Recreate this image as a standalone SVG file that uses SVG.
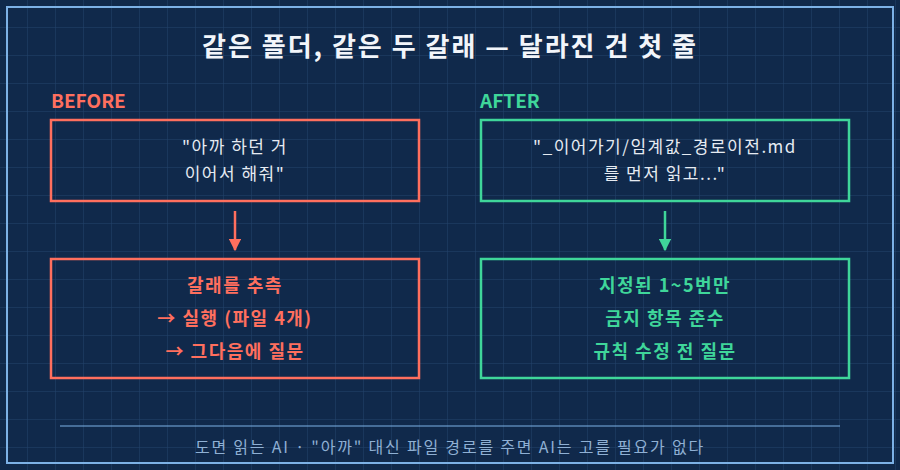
<svg xmlns="http://www.w3.org/2000/svg" width="900" height="470" viewBox="0 0 900 470">
<defs>
<pattern id="grid" width="28" height="28" patternUnits="userSpaceOnUse" x="0" y="0">
<path d="M28 0V28M0 28H28" fill="none" stroke="#24446c" stroke-width="1"/>
</pattern>
<marker id="ar" viewBox="0 0 10 10" refX="9" refY="5" markerWidth="5" markerHeight="5" orient="auto"><path d="M0 0L10 5L0 10z" fill="#ff6f5e"/></marker>
<marker id="ag" viewBox="0 0 10 10" refX="9" refY="5" markerWidth="5" markerHeight="5" orient="auto"><path d="M0 0L10 5L0 10z" fill="#3fd69a"/></marker>
</defs>
<style>
text{font-family:"Noto Sans CJK KR","Noto Sans",sans-serif;text-anchor:middle}
.t{fill:#f2f5fa;font-size:26px;font-weight:bold;letter-spacing:2px}
.lb{font-size:19px;font-weight:bold;text-anchor:start}
.q{fill:#e6ebf2;font-size:17px;letter-spacing:1.5px}
.b{font-size:18px;font-weight:bold;letter-spacing:1.5px}
.red{fill:#ff6f5e}.grn{fill:#3fd69a}
.bx{fill:none;stroke-width:2.5}
</style>
<rect width="900" height="470" fill="#10294b"/>
<rect width="900" height="470" fill="url(#grid)"/>
<rect x="7" y="7" width="886" height="456" fill="none" stroke="#7cb1e6" stroke-width="2"/>
<text class="t" x="450" y="56">같은 폴더, 같은 두 갈래 — 달라진 건 첫 줄</text>
<text class="lb red" x="51" y="108">BEFORE</text>
<text class="lb grn" x="480" y="108">AFTER</text>
<g id="before-prompt">
<rect class="bx" x="51" y="120" width="368" height="81" stroke="#ff6f5e"/>
<text class="q" x="235" y="153">"아까 하던 거</text>
<text class="q" x="235" y="180">이어서 해줘"</text>
</g>
<g id="before-result">
<rect class="bx" x="51" y="259" width="368" height="119" stroke="#ff6f5e"/>
<text class="b red" x="235" y="292">갈래를 추측</text>
<text class="b red" x="235" y="325">→ 실행 (파일 4개)</text>
<text class="b red" x="235" y="358">→ 그다음에 질문</text>
</g>
<g id="after-prompt">
<rect class="bx" x="481" y="120" width="368" height="81" stroke="#3fd69a"/>
<text class="q" x="665" y="153">"_이어가기/임계값_경로이전.md</text>
<text class="q" x="665" y="180">를 먼저 읽고..."</text>
</g>
<g id="after-result">
<rect class="bx" x="481" y="259" width="368" height="119" stroke="#3fd69a"/>
<text class="b grn" x="665" y="292">지정된 1~5번만</text>
<text class="b grn" x="665" y="325">금지 항목 준수</text>
<text class="b grn" x="665" y="358">규칙 수정 전 질문</text>
</g>
<g id="connectors">
<line x1="235" y1="211" x2="235" y2="250" stroke="#ff6f5e" stroke-width="2.5" marker-end="url(#ar)"/>
<line x1="665" y1="211" x2="665" y2="250" stroke="#3fd69a" stroke-width="2.5" marker-end="url(#ag)"/>
</g>
<line x1="60" y1="426" x2="840" y2="426" stroke="#7cb1e6" stroke-width="1.2"/>
<text x="450" y="453" fill="#8fb0d4" font-size="16" letter-spacing="1.8">도면 읽는 AI  ·  "아까" 대신 파일 경로를 주면 AI는 고를 필요가 없다</text>
</svg>
